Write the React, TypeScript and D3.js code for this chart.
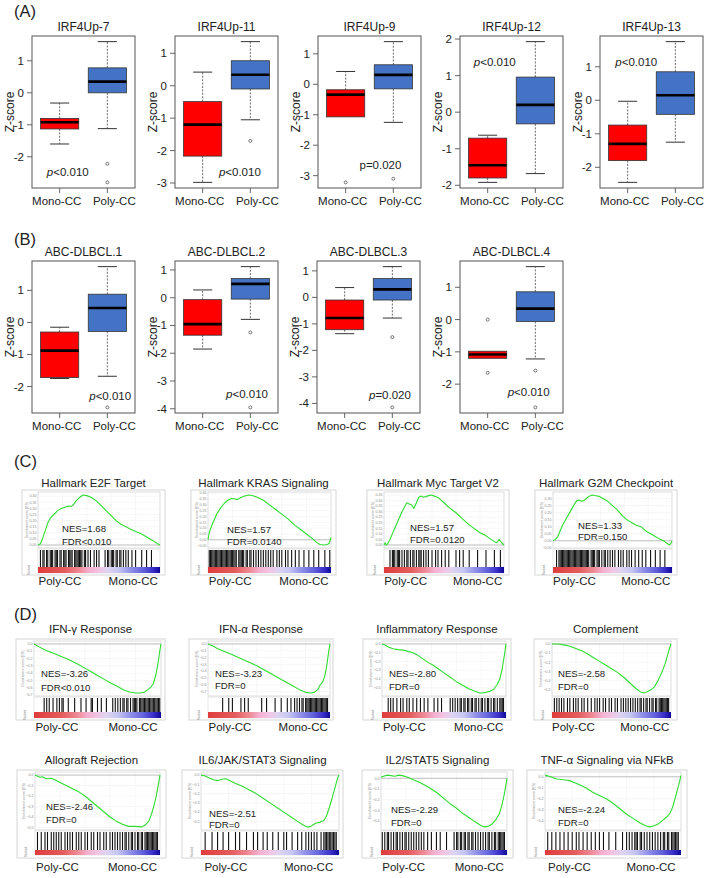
import { useEffect, useRef } from 'react';
import * as d3 from 'd3';

type G = d3.Selection<SVGGElement, unknown, null, undefined>;
type Stats = [number, number, number, number, number]; // lower whisker, Q1, median, Q3, upper whisker
type Pt = [number, number]; // [fraction of ranked list, running enrichment score]

const W = 709, H = 878;
const FONT = "'Liberation Sans', Arial, Helvetica, sans-serif";

const groups = ['Mono-CC', 'Poly-CC'];
const groupFill = ['#ff0000', '#4472c4'];
const groupLabelShift = [-3, 7];

// ---- (A) IRF4-up signatures, z-scores by group ----
const irf4Sets = ['IRF4Up-7', 'IRF4Up-11', 'IRF4Up-9', 'IRF4Up-12', 'IRF4Up-13'];
const irf4Mono: Stats[] = [
  [-1.6, -1.13, -0.92, -0.8, -0.32],
  [-2.98, -2.17, -1.2, -0.49, 0.42],
  [-1.07, -1.07, -0.34, -0.18, 0.42],
  [-1.92, -1.8, -1.45, -0.71, -0.63],
  [-2.45, -1.8, -1.3, -0.74, -0.03],
];
const irf4MonoOut = [[], [], [-3.22], [], []];
const irf4Poly: Stats[] = [
  [-1.12, 0.0, 0.35, 0.78, 1.6],
  [-1.05, -0.1, 0.34, 0.77, 1.36],
  [-1.25, -0.15, 0.31, 0.64, 1.4],
  [-1.68, -0.32, 0.2, 0.96, 1.93],
  [-1.25, -0.42, 0.15, 0.85, 1.75],
];
const irf4PolyOut = [[-2.22, -2.8], [-1.7], [-3.1], [], []];
const irf4P = ['p<0.010', 'p<0.010', 'p=0.020', 'p<0.010', 'p<0.010'];
const irf4PItalic = [true, true, false, true, true];
const irf4PAt: Pt[] = [[1.17, -2.48], [1.78, -2.66], [1.73, -2.65], [1.15, 1.37], [1.18, 1.14]];

// ---- (B) ABC-DLBCL signatures ----
const abcSets = ['ABC-DLBCL.1', 'ABC-DLBCL.2', 'ABC-DLBCL.3', 'ABC-DLBCL.4'];
const abcMono: Stats[] = [
  [-1.75, -1.72, -0.88, -0.3, -0.15],
  [-1.85, -1.35, -0.95, -0.07, 0.28],
  [-1.37, -1.22, -0.78, -0.1, 0.37],
  [-1.2, -1.2, -1.08, -0.98, -0.98],
];
const abcMonoOut = [[], [], [], [0.0, -1.65]];
const abcPoly: Stats[] = [
  [-1.68, -0.28, 0.45, 0.88, 1.74],
  [-0.78, -0.05, 0.5, 0.69, 1.12],
  [-0.78, -0.1, 0.3, 0.71, 1.16],
  [-1.22, -0.06, 0.34, 0.86, 1.64],
];
const abcPolyOut = [[-2.65], [-1.25, -3.95], [-1.5, -4.15], [-1.58, -2.72]];
const abcP = ['p<0.010', 'p<0.010', 'p=0.020', 'p<0.010'];
const abcPItalic = [true, true, true, true];
const abcPAt: Pt[] = [[2.06, -2.3], [1.93, -3.47], [1.95, -3.69], [1.86, -2.25]];

// ---- (C) Hallmark sets enriched in Poly-CC ----
const cTitles = ['Hallmark E2F Target', 'Hallmark KRAS Signaling', 'Hallmark Myc Target V2', 'Hallmark G2M Checkpoint'];
const cStats = [['NES=1.68', 'FDR<0.010'], ['NES=1.57', 'FDR=0.0140'], ['NES=1.57', 'FDR=0.0120'], ['NES=1.33', 'FDR=0.150']];
const e2fCurve: Pt[] = [[0, 0], [0.02, 0.01], [0.04, 0.06], [0.06, 0.12], [0.08, 0.18], [0.1, 0.22], [0.13, 0.25], [0.16, 0.28], [0.19, 0.3], [0.22, 0.31], [0.25, 0.32], [0.27, 0.315], [0.29, 0.33], [0.31, 0.36], [0.34, 0.39], [0.37, 0.41], [0.4, 0.405], [0.44, 0.39], [0.48, 0.36], [0.52, 0.32], [0.56, 0.28], [0.6, 0.24], [0.64, 0.2], [0.68, 0.17], [0.72, 0.15], [0.76, 0.13], [0.8, 0.11], [0.85, 0.09], [0.9, 0.06], [0.95, 0.03], [0.98, 0.01], [1, 0]];
const krasCurve: Pt[] = [[0, 0], [0.01, 0.06], [0.03, 0.12], [0.05, 0.17], [0.07, 0.22], [0.1, 0.27], [0.13, 0.31], [0.16, 0.34], [0.19, 0.355], [0.22, 0.35], [0.24, 0.345], [0.26, 0.36], [0.29, 0.375], [0.33, 0.385], [0.36, 0.38], [0.4, 0.365], [0.45, 0.34], [0.5, 0.3], [0.55, 0.26], [0.6, 0.22], [0.65, 0.18], [0.7, 0.13], [0.75, 0.09], [0.8, 0.05], [0.85, 0.01], [0.88, -0.02], [0.91, -0.04], [0.94, -0.045], [0.97, -0.04], [0.985, -0.03], [0.995, 0.0], [1, 0.02]];
const mycCurve: Pt[] = [[0, 0], [0.01, 0.02], [0.02, 0.0], [0.03, 0.01], [0.05, 0.05], [0.07, 0.1], [0.09, 0.15], [0.11, 0.2], [0.13, 0.25], [0.15, 0.3], [0.17, 0.34], [0.19, 0.38], [0.21, 0.37], [0.23, 0.36], [0.25, 0.33], [0.27, 0.38], [0.29, 0.43], [0.31, 0.44], [0.33, 0.43], [0.36, 0.44], [0.39, 0.45], [0.42, 0.44], [0.46, 0.42], [0.5, 0.38], [0.55, 0.33], [0.6, 0.29], [0.65, 0.24], [0.7, 0.19], [0.75, 0.15], [0.8, 0.11], [0.84, 0.09], [0.88, 0.06], [0.92, 0.03], [0.94, 0.02], [0.96, 0.05], [0.98, 0.02], [1, 0]];
const g2mCurve: Pt[] = [[0, 0], [0.02, 0.01], [0.04, 0.03], [0.06, 0.07], [0.08, 0.11], [0.1, 0.14], [0.12, 0.17], [0.14, 0.2], [0.16, 0.23], [0.18, 0.26], [0.2, 0.285], [0.22, 0.29], [0.24, 0.28], [0.26, 0.285], [0.28, 0.3], [0.3, 0.315], [0.33, 0.325], [0.36, 0.32], [0.39, 0.315], [0.42, 0.3], [0.46, 0.28], [0.5, 0.25], [0.54, 0.22], [0.58, 0.18], [0.62, 0.15], [0.66, 0.13], [0.7, 0.11], [0.74, 0.1], [0.78, 0.07], [0.82, 0.05], [0.86, 0.03], [0.9, 0.01], [0.93, 0.0], [0.96, -0.02], [0.98, -0.03], [0.99, -0.02], [1, 0]];
// hit positions, % of the ranked list
const e2fHits = [2, 4, 5, 7, 8, 10, 11, 12, 14, 15, 16, 18, 19, 21, 22, 23, 25, 26, 27, 28, 30, 31, 32, 33, 34, 35, 36, 38, 39, 41, 43, 46, 48, 50, 55, 57, 58, 60, 61, 62, 64, 65, 67, 68, 70, 72, 74, 77, 80, 85, 89, 93];
const krasHits = [1, 2, 3, 4, 5, 6, 7, 8, 9, 10, 11, 12, 13, 14, 15, 16, 17, 18, 19, 20, 21, 22, 23, 25, 26, 27, 28, 29, 31, 32, 34, 35, 37, 39, 41, 43, 45, 47, 49, 51, 53, 56, 58, 60, 63, 65, 68, 71, 74, 78, 82, 86, 90, 95, 99];
const mycHits = [5, 7, 8, 9, 11, 12, 13, 15, 17, 19, 20, 22, 24, 25, 27, 29, 30, 31, 33, 35, 37, 40, 43, 45, 48, 51, 54, 60, 63, 66, 71, 78, 85, 92, 97];
const g2mHits = [3, 5, 6, 7, 8, 9, 10, 11, 12, 13, 14, 15, 16, 17, 18, 19, 20, 21, 22, 23, 24, 25, 26, 27, 28, 29, 30, 32, 33, 34, 35, 37, 38, 39, 41, 43, 44, 46, 48, 50, 52, 55, 57, 59, 62, 64, 66, 69, 72, 75, 78, 82, 86, 90, 94];

// ---- (D) Hallmark sets enriched in Mono-CC ----
const d1Titles = ['IFN-γ Response', 'IFN-α Response', 'Inflammatory Response', 'Complement'];
const d1Stats = [['NES=-3.26', 'FDR<0.010'], ['NES=-3.23', 'FDR=0'], ['NES=-2.80', 'FDR=0'], ['NES=-2.58', 'FDR=0']];
const ifngCurve: Pt[] = [[0, 0], [0.04, -0.04], [0.08, -0.075], [0.12, -0.105], [0.16, -0.13], [0.2, -0.16], [0.25, -0.195], [0.3, -0.235], [0.35, -0.28], [0.4, -0.33], [0.45, -0.38], [0.5, -0.43], [0.55, -0.48], [0.6, -0.53], [0.65, -0.575], [0.7, -0.62], [0.75, -0.655], [0.8, -0.67], [0.84, -0.67], [0.87, -0.655], [0.9, -0.62], [0.92, -0.59], [0.94, -0.54], [0.96, -0.42], [0.975, -0.28], [0.99, -0.1], [1, 0]];
const ifnaCurve: Pt[] = [[0, 0], [0.04, -0.03], [0.08, -0.07], [0.12, -0.1], [0.16, -0.13], [0.2, -0.16], [0.25, -0.2], [0.3, -0.24], [0.35, -0.28], [0.4, -0.32], [0.45, -0.37], [0.5, -0.42], [0.55, -0.47], [0.6, -0.52], [0.65, -0.57], [0.7, -0.62], [0.75, -0.67], [0.8, -0.71], [0.84, -0.72], [0.87, -0.71], [0.9, -0.67], [0.92, -0.6], [0.94, -0.56], [0.96, -0.45], [0.975, -0.3], [0.99, -0.1], [1, 0]];
const inflamCurve: Pt[] = [[0, 0], [0.02, -0.01], [0.05, -0.035], [0.09, -0.055], [0.13, -0.065], [0.17, -0.07], [0.21, -0.085], [0.25, -0.1], [0.29, -0.13], [0.33, -0.17], [0.37, -0.21], [0.41, -0.24], [0.45, -0.28], [0.5, -0.33], [0.55, -0.38], [0.6, -0.43], [0.65, -0.47], [0.7, -0.51], [0.75, -0.54], [0.79, -0.56], [0.83, -0.555], [0.87, -0.54], [0.9, -0.52], [0.93, -0.46], [0.95, -0.4], [0.97, -0.28], [0.99, -0.1], [1, 0]];
const complCurve: Pt[] = [[0, 0], [0.05, 0.0], [0.1, -0.01], [0.15, -0.025], [0.2, -0.05], [0.25, -0.075], [0.3, -0.11], [0.35, -0.15], [0.4, -0.19], [0.45, -0.23], [0.5, -0.27], [0.55, -0.31], [0.6, -0.36], [0.65, -0.42], [0.7, -0.48], [0.74, -0.52], [0.77, -0.535], [0.8, -0.52], [0.83, -0.5], [0.86, -0.47], [0.89, -0.4], [0.92, -0.32], [0.95, -0.22], [0.98, -0.08], [1, 0]];
const ifngHits = [8, 10, 12, 15, 18, 20, 22, 23, 27, 32, 37, 41, 45, 46, 50, 53, 57, 62, 64, 66, 68, 70, 71, 73, 74, 76, 78, 79, 80, 81, 83, 84, 85, 86, 87, 88, 89, 90, 91, 92, 93, 94, 95, 96, 97, 98, 99];
const ifnaHits = [12, 17, 20, 27, 30, 33, 44, 48, 55, 60, 65, 68, 71, 73, 75, 77, 78, 80, 81, 82, 83, 84, 85, 86, 87, 88, 89, 90, 91, 92, 93, 94, 95, 96, 97, 98];
const inflamHits = [5, 7, 9, 12, 15, 17, 20, 22, 25, 28, 31, 34, 37, 42, 45, 48, 55, 57, 59, 61, 63, 64, 66, 67, 69, 70, 72, 73, 75, 76, 78, 80, 81, 83, 85, 86, 88, 90, 91, 93, 95, 96, 97, 98];
const complHits = [2, 4, 6, 8, 10, 13, 15, 18, 20, 22, 25, 27, 30, 33, 36, 38, 40, 43, 45, 48, 50, 53, 55, 58, 60, 62, 64, 66, 68, 70, 72, 74, 75, 77, 79, 80, 82, 84, 85, 87, 88, 90, 91, 92, 93, 94, 95, 96, 97, 98];

const d2Titles = ['Allograft Rejection', 'IL6/JAK/STAT3 Signaling', 'IL2/STAT5 Signaling', 'TNF-α Signaling via NFkB'];
const d2Stats = [['NES=-2.46', 'FDR=0'], ['NES=-2.51', 'FDR=0'], ['NES=-2.29', 'FDR=0'], ['NES=-2.24', 'FDR=0']];
const alloCurve: Pt[] = [[0, 0], [0.02, -0.01], [0.04, -0.02], [0.06, -0.015], [0.08, -0.03], [0.1, -0.035], [0.13, -0.03], [0.16, -0.045], [0.2, -0.07], [0.25, -0.1], [0.3, -0.13], [0.35, -0.16], [0.4, -0.2], [0.45, -0.25], [0.5, -0.3], [0.55, -0.35], [0.6, -0.4], [0.65, -0.44], [0.7, -0.47], [0.75, -0.49], [0.8, -0.49], [0.85, -0.495], [0.88, -0.48], [0.91, -0.44], [0.93, -0.38], [0.95, -0.3], [0.97, -0.2], [0.99, -0.07], [1, 0]];
const il6Curve: Pt[] = [[0, 0], [0.03, -0.01], [0.06, -0.03], [0.09, -0.05], [0.12, -0.06], [0.15, -0.045], [0.18, -0.04], [0.21, -0.06], [0.25, -0.09], [0.3, -0.12], [0.35, -0.16], [0.4, -0.2], [0.45, -0.25], [0.5, -0.3], [0.55, -0.35], [0.6, -0.4], [0.65, -0.45], [0.7, -0.5], [0.74, -0.54], [0.77, -0.56], [0.79, -0.56], [0.81, -0.54], [0.83, -0.52], [0.86, -0.51], [0.89, -0.49], [0.91, -0.44], [0.93, -0.35], [0.95, -0.25], [0.97, -0.14], [0.99, -0.03], [1, 0]];
const il2Curve: Pt[] = [[0, 0.01], [0.02, 0.02], [0.05, 0.03], [0.08, 0.025], [0.11, 0.02], [0.14, 0.03], [0.17, 0.025], [0.2, 0.015], [0.23, 0.0], [0.26, -0.015], [0.3, -0.035], [0.35, -0.065], [0.4, -0.1], [0.45, -0.14], [0.5, -0.19], [0.55, -0.24], [0.6, -0.28], [0.65, -0.33], [0.7, -0.37], [0.75, -0.41], [0.79, -0.44], [0.82, -0.455], [0.85, -0.45], [0.88, -0.43], [0.91, -0.39], [0.94, -0.33], [0.96, -0.25], [0.98, -0.14], [1, 0]];
const tnfCurve: Pt[] = [[0, 0.015], [0.03, 0.005], [0.06, -0.01], [0.09, -0.02], [0.12, -0.025], [0.15, -0.03], [0.18, -0.035], [0.21, -0.05], [0.25, -0.07], [0.3, -0.1], [0.35, -0.14], [0.4, -0.17], [0.45, -0.2], [0.5, -0.24], [0.55, -0.29], [0.6, -0.34], [0.65, -0.38], [0.7, -0.42], [0.74, -0.445], [0.77, -0.455], [0.8, -0.445], [0.83, -0.43], [0.86, -0.4], [0.89, -0.37], [0.92, -0.33], [0.94, -0.27], [0.96, -0.18], [0.98, -0.09], [1, 0.01]];
const alloHits = [2, 5, 8, 10, 13, 15, 17, 19, 21, 24, 26, 28, 30, 33, 35, 37, 40, 42, 45, 47, 50, 52, 55, 57, 60, 62, 64, 66, 68, 70, 72, 73, 75, 77, 78, 80, 82, 83, 85, 86, 88, 89, 90, 91, 92, 93, 94, 95, 96, 97, 98];
const il6Hits = [3, 8, 12, 16, 20, 25, 28, 33, 38, 41, 45, 48, 52, 56, 60, 62, 66, 70, 73, 76, 78, 80, 82, 84, 87, 89, 90, 91, 92, 93, 94, 95, 96, 97, 98];
const il2Hits = [1, 3, 5, 6, 8, 10, 12, 13, 15, 17, 19, 20, 22, 24, 26, 28, 30, 32, 34, 37, 40, 44, 47, 52, 58, 60, 61, 63, 64, 66, 67, 69, 70, 72, 73, 75, 77, 79, 81, 83, 85, 86, 88, 90, 91, 93, 94, 95, 96, 97, 98];
const tnfHits = [2, 5, 8, 11, 14, 17, 20, 23, 25, 28, 31, 34, 37, 40, 43, 47, 52, 57, 60, 62, 64, 66, 67, 68, 70, 71, 73, 75, 77, 79, 81, 83, 85, 87, 88, 90, 91, 93, 94, 95, 96, 97, 98];

// ---- layout ----
const boxW = 103, boxH = 152;
const irf4Left = [32, 175, 318, 460, 600];
const abcLeft = [32, 175, 317, 460];
const irf4Top = 36, abcTop = 261;

interface GseaRow { frameTop: number; esTop: number; esBottom: number; hitsBottom: number; barBottom: number; frameBottom: number; titleY: number; labelY: number; }
const rowC: GseaRow = { frameTop: 490, esTop: 492, esBottom: 548, hitsBottom: 567, barBottom: 573, frameBottom: 575, titleY: 487, labelY: 585 };
const rowD1: GseaRow = { frameTop: 639, esTop: 641, esBottom: 696, hitsBottom: 712, barBottom: 718, frameBottom: 720, titleY: 633, labelY: 731 };
const rowD2: GseaRow = { frameTop: 770, esTop: 772, esBottom: 830, hitsBottom: 850, barBottom: 855, frameBottom: 858, titleY: 764, labelY: 871 };
const cFrames = [[22, 165], [191, 336], [367, 509], [535, 677]];
const cInner = [[38, 160], [208, 331], [384, 504], [553, 672]];
const cTextAt = [[24, 532, 545], [19, 533, 545], [26, 531, 543], [25, 529, 540]];
const d1Frames = [[16, 165], [189, 333], [363, 511], [534, 677]];
const d1Inner = [[34, 161], [208, 330], [382, 506], [552, 671]];
const d1TextAt = [[7, 677, 691], [7, 677, 689], [7, 677, 690], [6, 677, 690]];
const d2Frames = [[17, 166], [182, 343], [362, 513], [527, 687]];
const d2Inner = [[35, 160], [201, 339], [381, 507], [545, 681]];
const d2TextAt = [[11, 810, 823], [8, 817, 828], [10, 813, 826], [13, 813, 826]];

function txt(g: G, x: number, y: number, s: string, size: number, anchor = 'middle') {
  return g.append('text').attr('x', x).attr('y', y).attr('text-anchor', anchor)
    .attr('font-size', size).attr('font-family', FONT).attr('fill', '#222').text(s);
}

function boxPlot(g: G, left: number, top: number, title: string, stats: Stats[], outs: number[][],
  pText: string, pItalic: boolean, pAt: Pt) {
  const vals = [...stats.flat(), ...outs.flat()];
  const [lo, hi] = d3.extent(vals) as [number, number];
  const pad = (hi - lo) * 0.04;
  const y = d3.scaleLinear().domain([lo - pad, hi + pad]).range([top + boxH, top]);
  const x = d3.scaleLinear().domain([0.42, 2.58]).range([left, left + boxW]);
  const [y0, y1] = y.domain();

  stats.forEach((s, i) => {
    const c = i + 1;
    const [lw, q1, med, q3, uw] = s;
    const dash = '2,1.4';
    if (uw > q3) {
      g.append('line').attr('x1', x(c)).attr('x2', x(c)).attr('y1', y(q3)).attr('y2', y(uw))
        .attr('stroke', '#444').attr('stroke-width', 0.8).attr('stroke-dasharray', dash);
      g.append('line').attr('x1', x(c - 0.2)).attr('x2', x(c + 0.2)).attr('y1', y(uw)).attr('y2', y(uw))
        .attr('stroke', '#333').attr('stroke-width', 1);
    }
    if (lw < q1) {
      g.append('line').attr('x1', x(c)).attr('x2', x(c)).attr('y1', y(q1)).attr('y2', y(lw))
        .attr('stroke', '#444').attr('stroke-width', 0.8).attr('stroke-dasharray', dash);
      g.append('line').attr('x1', x(c - 0.2)).attr('x2', x(c + 0.2)).attr('y1', y(lw)).attr('y2', y(lw))
        .attr('stroke', '#333').attr('stroke-width', 1);
    }
    g.append('rect').attr('x', x(c - 0.4)).attr('y', y(q3)).attr('width', x(c + 0.4) - x(c - 0.4))
      .attr('height', y(q1) - y(q3)).attr('fill', groupFill[i]).attr('stroke', '#333').attr('stroke-width', 0.8);
    g.append('line').attr('x1', x(c - 0.4)).attr('x2', x(c + 0.4)).attr('y1', y(med)).attr('y2', y(med))
      .attr('stroke', '#000').attr('stroke-width', 2.6);
    g.selectAll(null).data(outs[i]).enter().append('circle')
      .attr('cx', x(c)).attr('cy', (d: number) => y(d)).attr('r', 1.5)
      .attr('fill', 'none').attr('stroke', '#555').attr('stroke-width', 0.8);
  });

  g.append('rect').attr('x', left).attr('y', top).attr('width', boxW).attr('height', boxH)
    .attr('fill', 'none').attr('stroke', '#555').attr('stroke-width', 1);

  // y axis, whole-number ticks
  const ticks = d3.range(Math.ceil(y0), Math.floor(y1) + 1);
  ticks.forEach(t => {
    g.append('line').attr('x1', left - 5).attr('x2', left).attr('y1', y(t)).attr('y2', y(t))
      .attr('stroke', '#555').attr('stroke-width', 0.9);
    txt(g, left - 8, y(t) + 4, String(t), 11.5, 'end');
  });
  groups.forEach((name, i) => {
    g.append('line').attr('x1', x(i + 1)).attr('x2', x(i + 1)).attr('y1', top + boxH).attr('y2', top + boxH + 5)
      .attr('stroke', '#555').attr('stroke-width', 0.9);
    txt(g, x(i + 1) + groupLabelShift[i], top + boxH + 17, name, 11.5);
  });
  txt(g, 0, 0, 'Z-score', 12).attr('transform', `translate(${left - 18},${top + boxH / 2}) rotate(-90)`);
  txt(g, left + boxW / 2, top - 5, title, 12);

  const p = txt(g, x(pAt[0]), y(pAt[1]) + 4, '', 11.5);
  p.append('tspan').attr('font-style', pItalic ? 'italic' : 'normal').text(pText[0]);
  p.append('tspan').text(pText.slice(1));
}

function gseaPlot(g: G, row: GseaRow, frame: number[], inner: number[], title: string, curve: Pt[],
  hits: number[], step: number, stat: string[], at: number[]) {
  const [fx0, fx1] = frame;
  const [ix0, ix1] = inner;
  const x = d3.scaleLinear().domain([0, 1]).range([ix0, ix1]);
  const [lo, hi] = d3.extent(curve, d => d[1]) as [number, number];
  const pad = (hi - lo) * 0.06;
  const y = d3.scaleLinear().domain([lo - pad, hi + pad]).range([row.esBottom, row.esTop]);
  const fmt = d3.format(step < 0.1 ? '.2f' : '.1f');

  g.append('rect').attr('x', fx0).attr('y', row.frameTop).attr('width', fx1 - fx0)
    .attr('height', row.frameBottom - row.frameTop).attr('fill', '#fff').attr('stroke', '#d6d6d6').attr('stroke-width', 1);

  // running enrichment score panel
  g.append('rect').attr('x', ix0).attr('y', row.esTop).attr('width', ix1 - ix0).attr('height', row.esBottom - row.esTop)
    .attr('fill', '#fff').attr('stroke', '#c6c6c6').attr('stroke-width', 0.6);
  const yt = d3.range(Math.ceil((lo - pad) / step - 1e-6), Math.floor((hi + pad) / step + 1e-6) + 1).map(k => k * step);
  yt.forEach(t => {
    g.append('line').attr('x1', ix0).attr('x2', ix1).attr('y1', y(t)).attr('y2', y(t))
      .attr('stroke', '#efefef').attr('stroke-width', 0.5);
    g.append('text').attr('x', ix0 - 1.5).attr('y', y(t) + 1.2).attr('text-anchor', 'end')
      .attr('font-size', 3.6).attr('font-family', FONT).attr('fill', '#8c8c8c').text(fmt(Math.abs(t) < 1e-9 ? 0 : t));
  });
  x.ticks(5).slice(1, -1).forEach(t => {
    g.append('line').attr('x1', x(t)).attr('x2', x(t)).attr('y1', row.esTop).attr('y2', row.esBottom)
      .attr('stroke', '#efefef').attr('stroke-width', 0.5);
  });
  g.append('line').attr('x1', ix0).attr('x2', ix1).attr('y1', y(0)).attr('y2', y(0))
    .attr('stroke', '#a8a8a8').attr('stroke-width', 0.7);
  g.append('text').attr('transform', `translate(${ix0 - 10},${(row.esTop + row.esBottom) / 2}) rotate(-90)`)
    .attr('text-anchor', 'middle').attr('font-size', 3.6).attr('font-family', FONT).attr('fill', '#8c8c8c')
    .text('Enrichment score (ES)');

  const line = d3.line<Pt>().x(d => x(d[0])).y(d => y(d[1]));
  g.append('path').datum(curve).attr('d', line).attr('fill', 'none')
    .attr('stroke', '#2fdc2f').attr('stroke-width', 1.1).attr('stroke-linejoin', 'round');

  // hits
  g.append('rect').attr('x', ix0).attr('y', row.esBottom + 1).attr('width', ix1 - ix0)
    .attr('height', row.barBottom - row.esBottom - 1).attr('fill', '#fff').attr('stroke', '#cfcfcf').attr('stroke-width', 0.5);
  g.selectAll(null).data(hits).enter().append('line')
    .attr('x1', (d: number) => x(d / 100)).attr('x2', (d: number) => x(d / 100))
    .attr('y1', row.esBottom + 2).attr('y2', row.hitsBottom)
    .attr('stroke', '#111').attr('stroke-width', 1.1);
  g.append('rect').attr('x', ix0).attr('y', row.hitsBottom).attr('width', ix1 - ix0)
    .attr('height', row.barBottom - row.hitsBottom).attr('fill', 'url(#rankBar)');
  g.append('text').attr('transform', `translate(${ix0 - 8},${row.barBottom - 3}) rotate(-90)`)
    .attr('text-anchor', 'middle').attr('font-size', 3).attr('font-family', FONT).attr('fill', '#8c8c8c').text('Ranked');

  txt(g, (fx0 + fx1) / 2, row.titleY, title, 11.5);
  txt(g, ix0 + at[0], at[1], stat[0], 9.6, 'start');
  txt(g, ix0 + at[0], at[2], stat[1], 9.6, 'start');
  const w = ix1 - ix0;
  txt(g, ix0 + 0.18 * w, row.labelY, 'Poly-CC', 11.5);
  txt(g, ix1 - 0.22 * w, row.labelY, 'Mono-CC', 11.5);
}

export default function App() {
  const ref = useRef<SVGSVGElement>(null);

  useEffect(() => {
    if (!ref.current) return;
    const svg = d3.select(ref.current);
    svg.selectAll('*').remove();
    svg.append('rect').attr('width', W).attr('height', H).attr('fill', '#fff');

    const grad = svg.append('defs').append('linearGradient').attr('id', 'rankBar');
    [[0, '#e03c3c'], [0.22, '#e45c5c'], [0.34, '#ee8a96'], [0.42, '#f4b0d0'], [0.5, '#f2c4e4'],
      [0.57, '#ded4f2'], [0.66, '#c6c6f2'], [0.76, '#9090e8'], [0.86, '#6262dc'], [0.94, '#3a30c8'], [1, '#10089a']]
      .forEach(([o, c]) => grad.append('stop').attr('offset', o as number).attr('stop-color', c as string));

    const g = svg.append('g') as unknown as G;

    // panel letters
    [['(A)', 17], ['(B)', 245], ['(C)', 467], ['(D)', 620]].forEach(([s, yy]) =>
      txt(g, 14, yy as number, s as string, 16.5, 'start'));

    irf4Sets.forEach((t, i) => boxPlot(g, irf4Left[i], irf4Top, t, [irf4Mono[i], irf4Poly[i]],
      [irf4MonoOut[i], irf4PolyOut[i]], irf4P[i], irf4PItalic[i], irf4PAt[i]));
    abcSets.forEach((t, i) => boxPlot(g, abcLeft[i], abcTop, t, [abcMono[i], abcPoly[i]],
      [abcMonoOut[i], abcPolyOut[i]], abcP[i], abcPItalic[i], abcPAt[i]));

    const cCurves = [e2fCurve, krasCurve, mycCurve, g2mCurve];
    const cHits = [e2fHits, krasHits, mycHits, g2mHits];
    cTitles.forEach((t, i) => gseaPlot(g, rowC, cFrames[i], cInner[i], t, cCurves[i], cHits[i], 0.05, cStats[i], cTextAt[i]));

    const d1Curves = [ifngCurve, ifnaCurve, inflamCurve, complCurve];
    const d1Hits = [ifngHits, ifnaHits, inflamHits, complHits];
    d1Titles.forEach((t, i) => gseaPlot(g, rowD1, d1Frames[i], d1Inner[i], t, d1Curves[i], d1Hits[i], 0.1, d1Stats[i], d1TextAt[i]));

    const d2Curves = [alloCurve, il6Curve, il2Curve, tnfCurve];
    const d2Hits = [alloHits, il6Hits, il2Hits, tnfHits];
    d2Titles.forEach((t, i) => gseaPlot(g, rowD2, d2Frames[i], d2Inner[i], t, d2Curves[i], d2Hits[i], 0.1, d2Stats[i], d2TextAt[i]));
  }, []);

  return <svg ref={ref} width={W} height={H} viewBox={`0 0 ${W} ${H}`}
    style={{ position: 'absolute', left: 0, top: 0, display: 'block' }} />;
}
